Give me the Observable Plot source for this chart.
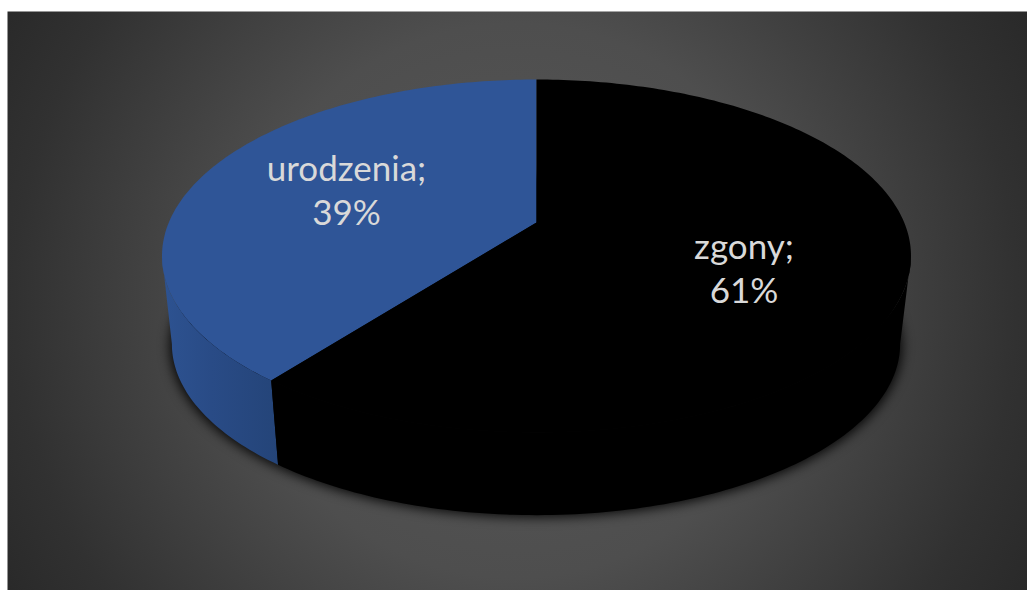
<!DOCTYPE html>
<html lang="pl">
<head>
<meta charset="utf-8">
<style>html,body{margin:0;padding:0;background:#fff;overflow:hidden}svg{display:block}</style>
<script src="https://cdn.jsdelivr.net/npm/d3@7"></script>
<script src="https://cdn.jsdelivr.net/npm/@observablehq/plot@0.6"></script>
</head>
<body>
<div id="chart"></div>
<script>
// Data
const categories = ["urodzenia", "zgony"];
const shares = [39.49, 60.51];
const sliceColors = ["#2f5597", "#000000"];
const sideColors = ["url(#blueSide)", "#000000"];
const labelColor = "#d9d9d9";

// Layout of the tilted disc, in page pixels
const disc = {apexX: 536, apexY: 222, a: 367.7, b: 170.1, k: 0.1898};
const base = {apexX: 535.5, apexY: 311, a: 357.5, b: 165, k: 0.1898};
const labelAt = [[346, 188.5], [743.5, 266.5]];

const project = (d, deg) => {
  const t = deg * Math.PI / 180;
  const u = Math.sin(t), v = -Math.cos(t), w = 1 - d.k * v;
  return {x: d.apexX + d.a * u / w, y: d.apexY + d.b * v / w};
};
const arc = (d, from, to) => {
  const n = Math.max(2, Math.ceil(Math.abs(to - from)));
  return d3.range(n + 1).map(i => project(d, from + (to - from) * i / n));
};

// Slices run from 12 o'clock: the first one counter-clockwise, the rest clockwise.
const total = d3.sum(shares);
const sweep = shares.map(s => s / total * 360);
const ranges = [[-sweep[0], 0], [0, sweep[1]]];

const topFaces = categories.flatMap((c, i) => [
  {x: disc.apexX, y: disc.apexY, c},
  ...arc(disc, ...ranges[i]).map(p => ({...p, c}))
]);

// Only the part of the rim that faces the viewer is drawn: it ends where the
// rim turns away, at the left and right extremes of the disc.
const edge = Math.acos(-disc.k) * 180 / Math.PI;
const rimRanges = [[-sweep[0], -edge], [edge, sweep[1]]];
const sideFaces = categories.flatMap((c, i) => [
  ...arc(disc, ...rimRanges[i]).map(p => ({...p, c})),
  ...arc(base, ...rimRanges[i]).reverse().map(p => ({...p, c}))
]);
const shadow = arc({...base, a: base.a + 2, apexY: base.apexY + 2}, 0, 360);

const labels = categories.map((c, i) => ({
  text: `${c};\n${Math.round(shares[i])}%`,
  x: labelAt[i][0],
  y: labelAt[i][1]
}));

const defs = () => {
  const s = d3.create("svg:defs");
  const bg = s.append("radialGradient").attr("id", "bg")
    .attr("gradientUnits", "userSpaceOnUse").attr("cx", 515).attr("cy", 300).attr("r", 590);
  [[0, "#585858"], [.47, "#4e4e4e"], [.85, "#313131"], [1, "#292929"]].forEach(([o, c]) =>
    bg.append("stop").attr("offset", o).attr("stop-color", c));
  const bl = s.append("linearGradient").attr("id", "blueSide")
    .attr("gradientUnits", "userSpaceOnUse").attr("x1", 165).attr("x2", 280).attr("y1", 0).attr("y2", 0);
  [[0, "#2d5290"], [.4, "#294b86"], [1, "#244478"]].forEach(([o, c]) =>
    bl.append("stop").attr("offset", o).attr("stop-color", c));
  return s.node();
};

const chart = Plot.plot({
  width: 1027,
  height: 590,
  marginLeft: 7,
  marginTop: 11,
  marginRight: 0,
  marginBottom: 0,
  x: {domain: [7, 1027], axis: null},
  y: {domain: [590, 11], axis: null},
  marks: [
    defs,
    Plot.frame({fill: "url(#bg)", stroke: "none"}),
    Plot.line(shadow, {x: "x", y: "y", fill: "#000", stroke: "none", fillOpacity: 0.9, imageFilter: "blur(6px)"}),
    ...categories.map((c, i) => Plot.line(sideFaces.filter(d => d.c === c), {x: "x", y: "y", fill: sideColors[i], stroke: "none"})),
    ...categories.map((c, i) => Plot.line(topFaces.filter(d => d.c === c), {x: "x", y: "y", fill: sliceColors[i], stroke: "none"})),
    Plot.text(labels, {
      x: "x", y: "y", text: "text", fill: labelColor,
      fontFamily: "Lato", fontSize: 35, lineHeight: 1.26, textAnchor: "middle"
    })
  ]
});
document.getElementById("chart").append(chart);
</script>
</body>
</html>
